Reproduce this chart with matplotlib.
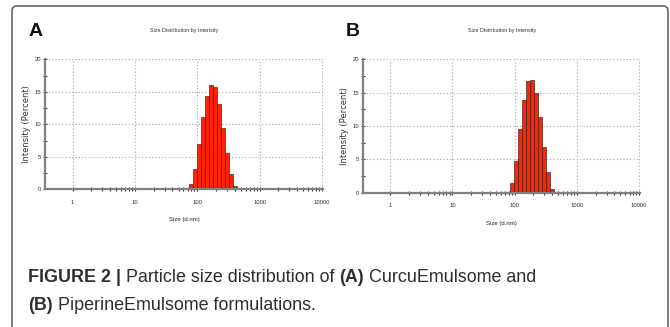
import numpy as np
import matplotlib
matplotlib.use("Agg")
import matplotlib.pyplot as plt
from matplotlib.patches import FancyBboxPatch
from matplotlib.ticker import FixedLocator, NullFormatter

# size classes (d.nm) and intensity (%)
SIZES_A = [78.82, 91.28, 105.7, 122.4, 141.8, 164.2, 190.1, 220.2, 255.0, 295.3, 342.0, 396.1]
INTENSITY_A = [0.8, 3.2, 7.0, 11.1, 14.4, 16.1, 15.7, 13.2, 9.5, 5.6, 2.4, 0.5]

SIZES_B = [91.28, 105.7, 122.4, 141.8, 164.2, 190.1, 220.2, 255.0, 295.3, 342.0, 396.1]
INTENSITY_B = [1.4, 4.8, 9.5, 13.9, 16.7, 16.9, 15.0, 11.3, 6.9, 3.1, 0.6]

X_TICKS = [1, 10, 100, 1000, 10000]
X_TICK_LABELS = ["1", "10", "100", "1000", "10000"]
Y_TICKS = [0, 5, 10, 15, 20]
Y_TICK_LABELS = ["0", "5", "10", "15", "20"]

PANEL_LABELS = ["A", "B"]
TITLE = "Size Distribution by Intensity"
X_LABEL = "Size (d.nm)"
Y_LABEL = "Intensity (Percent)"

CAPTION_1 = [("FIGURE 2 |", "bold"), (" Particle size distribution of ", "normal"),
             ("(A)", "bold"), (" CurcuEmulsome and", "normal")]
CAPTION_2 = [("(B)", "bold"), (" PiperineEmulsome formulations.", "normal")]

NARROW = ["Liberation Sans Narrow", "Liberation Sans"]
BAR_RED = "#fc2404"


def bar_edges(sizes):
    s = np.log10(np.asarray(sizes))
    step = np.diff(s).mean()
    edges = np.concatenate([[s[0] - step / 2], (s[:-1] + s[1:]) / 2, [s[-1] + step / 2]])
    return 10 ** edges


def draw_panel(ax, sizes, values, xlim):
    edges = bar_edges(sizes)
    ax.bar(edges[:-1], values, width=np.diff(edges), align="edge",
           color=BAR_RED, edgecolor="#3a1a10", linewidth=0.45, zorder=3)
    ax.set_xscale("log")
    ax.set_xlim(*xlim)
    ax.set_ylim(0, 20)

    ax.xaxis.set_major_locator(FixedLocator(X_TICKS))
    ax.set_xticklabels(X_TICK_LABELS, family=NARROW, fontsize=4.2)
    minors = [m * d for d in [1, 10, 100, 1000] for m in range(2, 10)]
    ax.xaxis.set_minor_locator(FixedLocator(minors))
    ax.xaxis.set_minor_formatter(NullFormatter())

    ax.yaxis.set_major_locator(FixedLocator(Y_TICKS))
    ax.set_yticklabels(Y_TICK_LABELS, family=NARROW, fontsize=4.2)
    ax.yaxis.set_minor_locator(FixedLocator([2.5, 7.5, 12.5, 17.5]))

    ax.tick_params(which="both", direction="inout", colors="#333333", width=0.8)
    ax.tick_params(which="major", length=3)
    ax.tick_params(which="minor", length=2.2)
    ax.tick_params(axis="x", which="major", pad=6)
    ax.tick_params(axis="y", which="major", pad=1.5)

    for side in ["top", "right"]:
        ax.spines[side].set_visible(False)
    for side in ["left", "bottom"]:
        ax.spines[side].set_color("#808080")
        ax.spines[side].set_linewidth(1.6)
        ax.spines[side].set_zorder(4)

    # dotted grid, also used as the closing top / right edges
    for x in X_TICKS:
        ax.axvline(x, color="#a8a8a8", linestyle=(0, (1, 2)), linewidth=0.8, zorder=1)
    for y in Y_TICKS[1:]:
        ax.axhline(y, color="#a8a8a8", linestyle=(0, (1, 2)), linewidth=0.8, zorder=1)

    ax.set_xlabel(X_LABEL, family=NARROW, fontsize=4.3, labelpad=9, color="#222222")
    ax.set_ylabel(Y_LABEL, family="DejaVu Sans", fontsize=6, labelpad=2.5, color="#333333")
    ax.set_title(TITLE, family=NARROW, fontsize=3.9, pad=20, color="#333333")


fig = plt.figure(figsize=(6.7, 3.27), dpi=100)

ax_a = fig.add_axes([45 / 670, 1 - 189.3 / 327, 278 / 670, 130 / 327])
ax_b = fig.add_axes([363.3 / 670, 1 - 192.7 / 327, 276.7 / 670, 133.4 / 327])
draw_panel(ax_a, SIZES_A, INTENSITY_A, (0.36, 10400))
draw_panel(ax_b, SIZES_B, INTENSITY_B, (0.37, 10300))

fig.text(29 / 670, 1 - 32 / 327, PANEL_LABELS[0], fontsize=14, fontweight="bold",
         family="Liberation Sans", va="center", ha="left", color="#111111")
fig.text(346 / 670, 1 - 32 / 327, PANEL_LABELS[1], fontsize=14, fontweight="bold",
         family="Liberation Sans", va="center", ha="left", color="#111111")

# caption, pieced together so that bold and regular parts follow each other
renderer = fig.canvas.get_renderer()
for line, ypix in [(CAPTION_1, 278), (CAPTION_2, 305)]:
    x = 28 / 670
    for txt, weight in line:
        t = fig.text(x, 1 - ypix / 327, txt, fontsize=12.9, fontweight=weight,
                     family="Liberation Sans", va="center", ha="left", color="#2e2e2e")
        bb = t.get_window_extent(renderer)
        x += bb.width / fig.bbox.width

# rounded frame around the figure, open at the bottom
frame = FancyBboxPatch((0.12, -0.3), 6.56, 3.21 + 0.3,
                       boxstyle="round,pad=0,rounding_size=0.05",
                       transform=fig.dpi_scale_trans, fill=False,
                       edgecolor="#666666", linewidth=1.2, clip_on=False)
fig.patches.append(frame)

fig.savefig("out.png", dpi=100)
